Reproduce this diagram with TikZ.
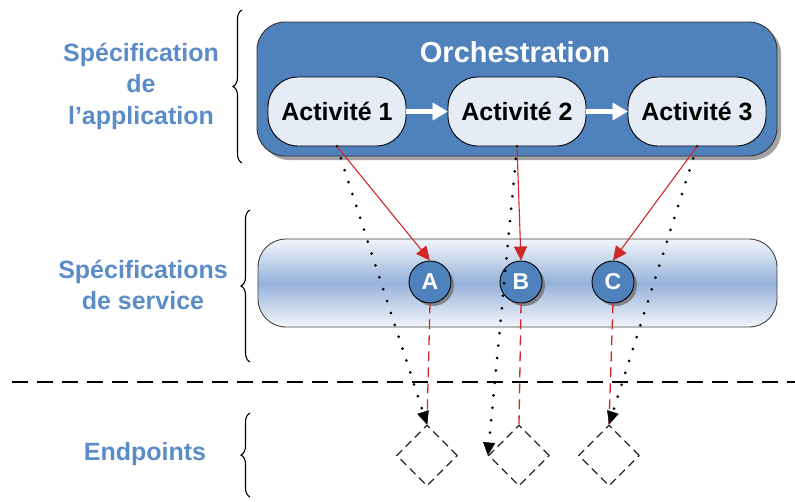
\documentclass[tikz,border=0pt]{standalone}
\usepackage{fontspec}
\setmainfont{Liberation Sans}
\usetikzlibrary{arrows.meta,shadows,decorations.pathreplacing,shapes.geometric}
\definecolor{blu}{HTML}{4F81BD}
\definecolor{lbl}{HTML}{5B8CC8}
\definecolor{actfill}{HTML}{E6ECF6}
\definecolor{redl}{HTML}{D02828}
\definecolor{barmid}{HTML}{96B2DA}
\definecolor{bartop}{HTML}{F2F6FB}
\tikzset{
  orchbox/.style={draw=black!80, line width=0.9pt, fill=blu, rounded corners=28pt,
    drop shadow={shadow xshift=4pt, shadow yshift=-4pt, fill=black!45, opacity=0.8}},
  actbox/.style={draw=black, line width=0.9pt, fill=actfill, rounded corners=30pt,
    minimum width=138pt, minimum height=69pt, inner sep=0pt,
    font=\fontsize{25}{30}\selectfont\bfseries},
  barbox/.style={draw=black!75, line width=0.9pt, rounded corners=28pt,
    top color=bartop, bottom color=bartop, middle color=barmid,
    minimum width=519pt, minimum height=88pt},
  circ/.style={circle, draw=black, line width=0.9pt, fill=blu, minimum size=42pt, inner sep=0pt,
    text=white, font=\fontsize{23}{26}\selectfont\bfseries,
    drop shadow={shadow xshift=3pt, shadow yshift=-3pt, fill=black!55, opacity=0.8}},
  endpt/.style={diamond, draw=black!85, line width=1.2pt, dash pattern=on 8pt off 5pt,
    minimum width=61pt, minimum height=61pt, inner sep=0pt},
  lbltext/.style={text=lbl, align=center, font=\fontsize{25}{31.5}\selectfont\bfseries},
  redarrow/.style={draw=redl, line width=1.1pt, -{Triangle[length=14pt,width=13pt]}},
  reddash/.style={draw=redl, line width=1.3pt, dash pattern=on 10pt off 6pt},
  dotarrow/.style={draw=black, line width=3pt, line cap=round, dash pattern=on 0pt off 12.5pt,
    -{Triangle[length=13pt,width=12pt,line width=0.4pt]}},
  whitearrow/.style={draw=white, line width=5pt, -{Triangle[length=15pt,width=18pt,line width=0.4pt]}},
  bracestyle/.style={draw=black, line width=1.1pt, decorate, decoration={brace, amplitude=9pt}},
}
\begin{document}
\begin{tikzpicture}[x=1pt,y=-1pt]
\useasboundingbox (0,0) rectangle (795,501);

% labels
\node[lbltext] (lab1) at (141,86) {Spécification\\de\\l’application};
\node[lbltext] (lab2) at (143,285) {Spécifications\\de service};
\node[lbltext] (lab3) at (145,454) {Endpoints};

% braces
\coordinate (b1a) at (242,163); \coordinate (b1b) at (242,10);
\coordinate (b2a) at (250,362); \coordinate (b2b) at (250,210);
\coordinate (b3a) at (250,497); \coordinate (b3b) at (250,413);
\draw[bracestyle] (b1a) -- (b1b);
\draw[bracestyle] (b2a) -- (b2b);
\draw[bracestyle] (b3a) -- (b3b);

% horizontal separator
\coordinate (hl) at (12,382); \coordinate (hr) at (795,382);
\draw[line width=1.3pt, dash pattern=on 16pt off 9pt] (hl) -- (hr);

% orchestration
\node[orchbox, minimum width=520pt, minimum height=134pt] (orch) at (517,89) {};
\node[text=white, font=\fontsize{29}{34}\selectfont\bfseries] (orchtitle) at (515,52) {Orchestration};
\node[actbox] (a1) at (337,111.5) {Activité 1};
\node[actbox] (a2) at (517,111.5) {Activité 2};
\node[actbox] (a3) at (697,111.5) {Activité 3};
\draw[whitearrow] (a1.east) -- (a2.west);
\draw[whitearrow] (a2.east) -- (a3.west);

% service bar
\node[barbox] (bar) at (517.5,283) {};
\node[circ] (ca) at (430,282) {A};
\node[circ] (cb) at (521,282) {B};
\node[circ] (cc) at (613,282) {C};

% endpoints
\node[endpt] (d1) at (427,455.5) {};
\node[endpt] (d2) at (519,455.5) {};
\node[endpt] (d3) at (609,455.5) {};

% red dashed service-to-endpoint
\draw[reddash] (ca.south) -- (d1.north);
\draw[reddash] (cb.south) -- (d2.north);
\draw[reddash] (cc.south) -- (d3.north);

% dotted arrows activity-to-endpoint
\draw[dotarrow] (a1.south) -- (d1.north);
\draw[dotarrow] (a2.south) -- (d2.west);
\draw[dotarrow] (a3.south) -- (d3.north);

% red arrows activity-to-service
\draw[redarrow] (a1.south) -- (ca.north);
\draw[redarrow] (a2.south) -- (cb.north);
\draw[redarrow] (a3.south) -- (cc.north);
\end{tikzpicture}
\end{document}
